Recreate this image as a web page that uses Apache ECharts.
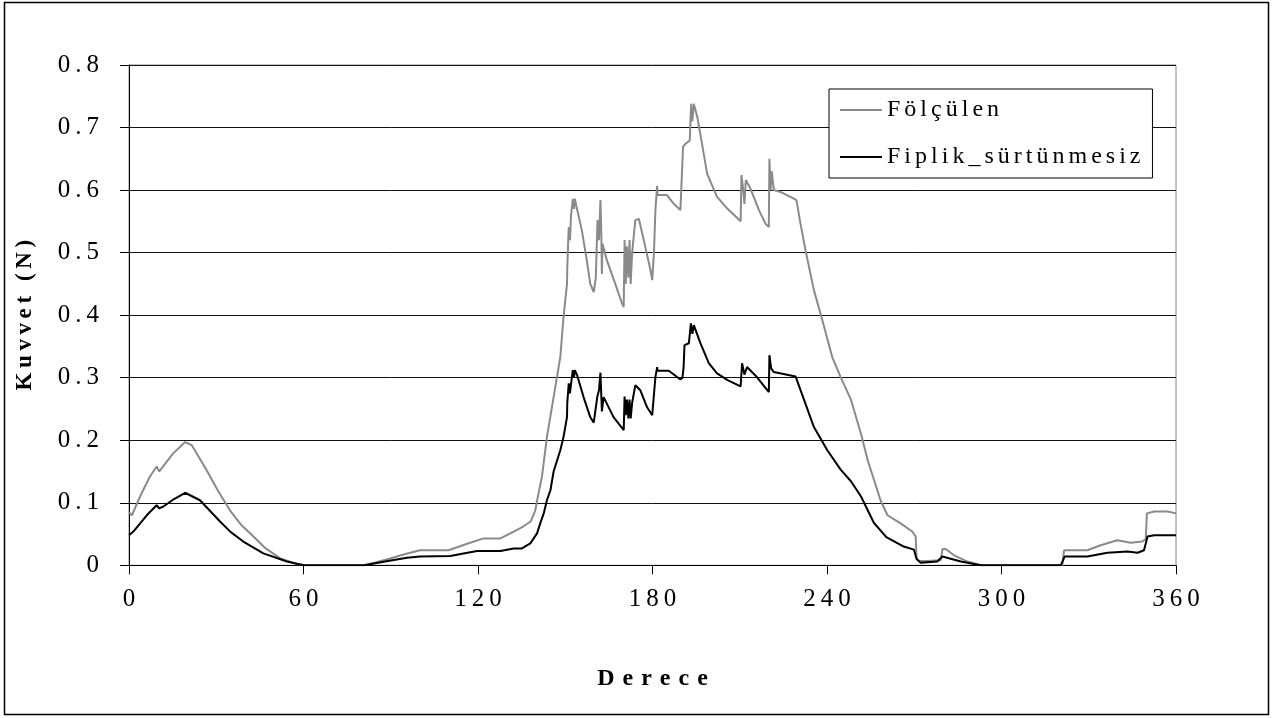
<!DOCTYPE html>
<html>
<head>
<meta charset="utf-8">
<script src="https://cdn.jsdelivr.net/npm/echarts@6/dist/echarts.min.js"></script>
<style>
  html, body { margin: 0; padding: 0; background: #fff; }
  #chart { width: 1273px; height: 718px; }
</style>
</head>
<body>
<div id="chart"></div>
<script>
// Measured force over one revolution (degrees)
const olculenDeg = [0, 1, 3.8, 7.2, 9.5, 10.4, 11.2, 15.2, 19.3, 21.6, 26.7, 30.5, 34.7, 38.5, 42.8, 47, 52, 57.7, 61,
  80.6, 85, 89.8, 95, 100.1, 109.9, 116, 121.9, 127.7, 132.3, 135.5, 138.1, 139.7, 140.8, 142, 143.7, 146, 148.3, 149.4, 150.6, 150.7,
  151.2, 151.6, 152.0, 152.6, 153.0, 153.3, 153.8, 155.7, 157.4, 158.6, 159.8, 160.5, 161.1, 161.6, 162.1, 162.4, 162.6, 162.8,
  164.3, 167.2, 169.5, 170.1, 170.4, 170.8, 171.2, 171.7, 172.1, 172.5, 173.0, 174.1, 175.3, 177, 179.3, 179.9, 180.5, 181, 181.6, 181.7,
  185, 187.3, 189.6, 190.2, 190.5, 191.3, 192.8, 193.3, 193.7, 194.2, 195.4, 197.2, 198.8, 202.2, 205.8, 210.3, 210.6, 211.2, 211.6,
  212.1, 213.9, 216.6, 218.9, 220, 220.2, 220.6, 221, 221.7, 224, 227.4, 229.5, 230.9, 232.6, 235.5, 238.4, 241.8, 244.7, 248.3,
  251.7, 254, 256.2, 258.4, 260.8, 265.3, 269.3, 270.5, 270.8, 271.6, 274.5, 279.1, 279.7, 280.8, 283.7, 288.3, 292.9,
  320.9, 321.5, 329.5, 334.1, 339.8, 344.4, 348.4, 349.6, 350, 352.5, 357.1, 360];
const olculenVal = [0.085, 0.08, 0.11, 0.142, 0.158, 0.15, 0.155, 0.179, 0.197, 0.192, 0.152, 0.12, 0.088, 0.065, 0.046, 0.027, 0.011, 0.002, 0,
  0, 0.005, 0.011, 0.018, 0.024, 0.024, 0.034, 0.043, 0.043, 0.054, 0.062, 0.07, 0.088, 0.115, 0.142, 0.205, 0.269, 0.333, 0.397, 0.45, 0.477,
  0.541, 0.52, 0.56, 0.586, 0.57, 0.586, 0.575, 0.536, 0.488, 0.45, 0.437, 0.46, 0.552, 0.52, 0.584, 0.53, 0.466, 0.514,
  0.488, 0.45, 0.419, 0.413, 0.52, 0.45, 0.51, 0.46, 0.52, 0.45, 0.50, 0.552, 0.554, 0.52, 0.472, 0.456, 0.5, 0.568, 0.607, 0.592,
  0.592, 0.578, 0.568, 0.57, 0.669, 0.674, 0.679, 0.738, 0.71, 0.738, 0.717, 0.669, 0.626, 0.589, 0.57, 0.55, 0.624, 0.6, 0.578,
  0.616, 0.6, 0.568, 0.546, 0.541, 0.65, 0.6, 0.63, 0.6, 0.597, 0.589, 0.584, 0.546, 0.504, 0.44, 0.392, 0.333, 0.301, 0.264,
  0.21, 0.168, 0.136, 0.104, 0.08, 0.067, 0.054, 0.046, 0.011, 0.007, 0.007, 0.008, 0.026, 0.026, 0.016, 0.006, 0,
  0, 0.024, 0.024, 0.032, 0.04, 0.036, 0.038, 0.042, 0.083, 0.086, 0.086, 0.083];

// Thread force without friction
const siplikDeg = [0, 1.5, 6.1, 9.5, 10.4, 11.8, 15.5, 19.3, 24.4, 31.3, 35, 39.3, 46.2, 54.3, 60,
  81, 88, 95.6, 100.1, 110.5, 115, 119.7, 127.7, 132.3, 135.1, 138, 140.3, 141.4, 142.6, 143.7, 144.9, 146, 148.3, 149.4, 150.6, 150.7,
  151.2, 151.6, 152.0, 152.6, 153.0, 153.3, 154, 156.3, 158.6, 159.8, 161, 161.6, 162.1, 162.6, 163.2, 166.6, 170.1,
  170.4, 170.8, 171.2, 171.7, 172.1, 172.5, 173, 174.1, 175.8, 178.1, 179.9, 181, 181.6, 181.7, 185.6, 189.6, 190.3, 190.7, 191,
  192.5, 193.2, 193.7, 194.2, 196.5, 199.4, 202.2, 205.8, 210.3, 210.8, 211.6, 212.5, 215.9, 220, 220.2, 220.8, 221.7, 229.2, 230.9,
  235.5, 240.1, 244.7, 248.3, 251.7, 256.1, 260.4, 266.4, 269.9, 270.8, 272.2, 277.9, 279.7, 286, 292.9,
  320.4, 321.7, 329.5, 336.4, 343.3, 346.8, 349, 350.2, 352.5, 360];
const siplikVal = [0.048, 0.054, 0.08, 0.096, 0.091, 0.094, 0.106, 0.116, 0.104, 0.07, 0.053, 0.038, 0.019, 0.006, 0,
  0, 0.006, 0.012, 0.014, 0.015, 0.019, 0.023, 0.023, 0.027, 0.027, 0.035, 0.051, 0.067, 0.083, 0.104, 0.12, 0.15, 0.184, 0.205, 0.237, 0.26,
  0.291, 0.275, 0.29, 0.312, 0.3, 0.312, 0.305, 0.269, 0.237, 0.228, 0.269, 0.28, 0.308, 0.246, 0.269, 0.237, 0.216,
  0.27, 0.24, 0.265, 0.235, 0.265, 0.235, 0.26, 0.288, 0.28, 0.253, 0.24, 0.301, 0.317, 0.311, 0.311, 0.297, 0.3, 0.317, 0.352,
  0.355, 0.387, 0.37, 0.384, 0.355, 0.323, 0.307, 0.296, 0.286, 0.323, 0.305, 0.317, 0.301, 0.277, 0.336, 0.315, 0.309, 0.302, 0.28,
  0.221, 0.184, 0.153, 0.134, 0.11, 0.068, 0.045, 0.03, 0.025, 0.01, 0.004, 0.006, 0.014, 0.006, 0,
  0, 0.014, 0.014, 0.02, 0.022, 0.02, 0.024, 0.046, 0.048, 0.048];

const xTicks = { min: 0, max: 360, interval: 60 };
const yTicks = { min: 0, max: 0.8, interval: 0.1 };
const seriesNames = ['Fölçülen', 'Fiplik_sürtünmesiz'];
const xTitle = 'Derece';
const yTitle = 'Kuvvet (N)';

// spread glyphs apart with a chosen gap character
const spaced = (s, gap = '\u2009') => Array.from(s).join(gap);
const pairs = (xs, ys) => xs.map((x, i) => [x, ys[i]]);

const serif = '"Liberation Serif", "DejaVu Serif", serif';

const chart = echarts.init(document.getElementById('chart'), null, { renderer: 'canvas' });
chart.setOption({
  backgroundColor: '#fff',
  animation: false,
  graphic: [{
    type: 'rect',
    shape: { x: 4.5, y: 2.5, width: 1264, height: 712 },
    style: { fill: 'none', stroke: '#000', lineWidth: 1.5 },
    silent: true, z: 0
  }],
  grid: {
    left: 129, top: 65, right: 97, bottom: 152.7,
    show: true, borderColor: '#888', borderWidth: 1, backgroundColor: 'transparent'
  },
  legend: {
    orient: 'vertical',
    left: 829, top: 89,
    padding: [9, 12, 9, 11],
    itemGap: 23,
    itemWidth: 42, itemHeight: 2,
    icon: 'rect',
    backgroundColor: '#fff',
    borderColor: '#000', borderWidth: 1,
    borderRadius: 0,
    textStyle: { fontFamily: serif, fontSize: 24, color: '#000' },
    formatter: name => spaced(name, '\u200A\u200A'),
    data: seriesNames
  },
  xAxis: {
    type: 'value',
    min: xTicks.min, max: xTicks.max, interval: xTicks.interval,
    name: spaced(xTitle, '\u2004'),
    nameLocation: 'middle', nameGap: 101,
    nameTextStyle: { fontFamily: serif, fontSize: 24, fontWeight: 'bold', color: '#000' },
    axisLine: { show: true, onZero: false, lineStyle: { color: '#000', width: 1 } },
    axisTick: { show: true, inside: false, length: 9, lineStyle: { color: '#000' } },
    axisLabel: { margin: 22, fontFamily: serif, fontSize: 25, color: '#000', formatter: v => spaced(String(v)) },
    splitLine: { show: false }
  },
  yAxis: {
    type: 'value',
    min: yTicks.min, max: yTicks.max, interval: yTicks.interval,
    name: spaced(yTitle),
    nameLocation: 'middle', nameGap: 92, nameRotate: 90,
    nameTextStyle: { fontFamily: serif, fontSize: 23, fontWeight: 'bold', color: '#000' },
    axisLine: { show: true, lineStyle: { color: '#000', width: 1 } },
    axisTick: { show: true, inside: false, length: 9, lineStyle: { color: '#000' } },
    axisLabel: {
      margin: 30, fontFamily: serif, fontSize: 25, color: '#000',
      formatter: v => spaced(v === 0 ? '0' : v.toFixed(1))
    },
    splitLine: { show: true, lineStyle: { color: '#111', width: 1 } }
  },
  series: [
    {
      name: seriesNames[0], type: 'line', showSymbol: false, symbol: 'none',
      data: pairs(olculenDeg, olculenVal),
      lineStyle: { color: '#8a8a8a', width: 2 }, itemStyle: { color: '#8a8a8a' }, z: 3
    },
    {
      name: seriesNames[1], type: 'line', showSymbol: false, symbol: 'none',
      data: pairs(siplikDeg, siplikVal),
      lineStyle: { color: '#000', width: 2 }, itemStyle: { color: '#000' }, z: 4
    }
  ]
});
</script>
</body>
</html>
